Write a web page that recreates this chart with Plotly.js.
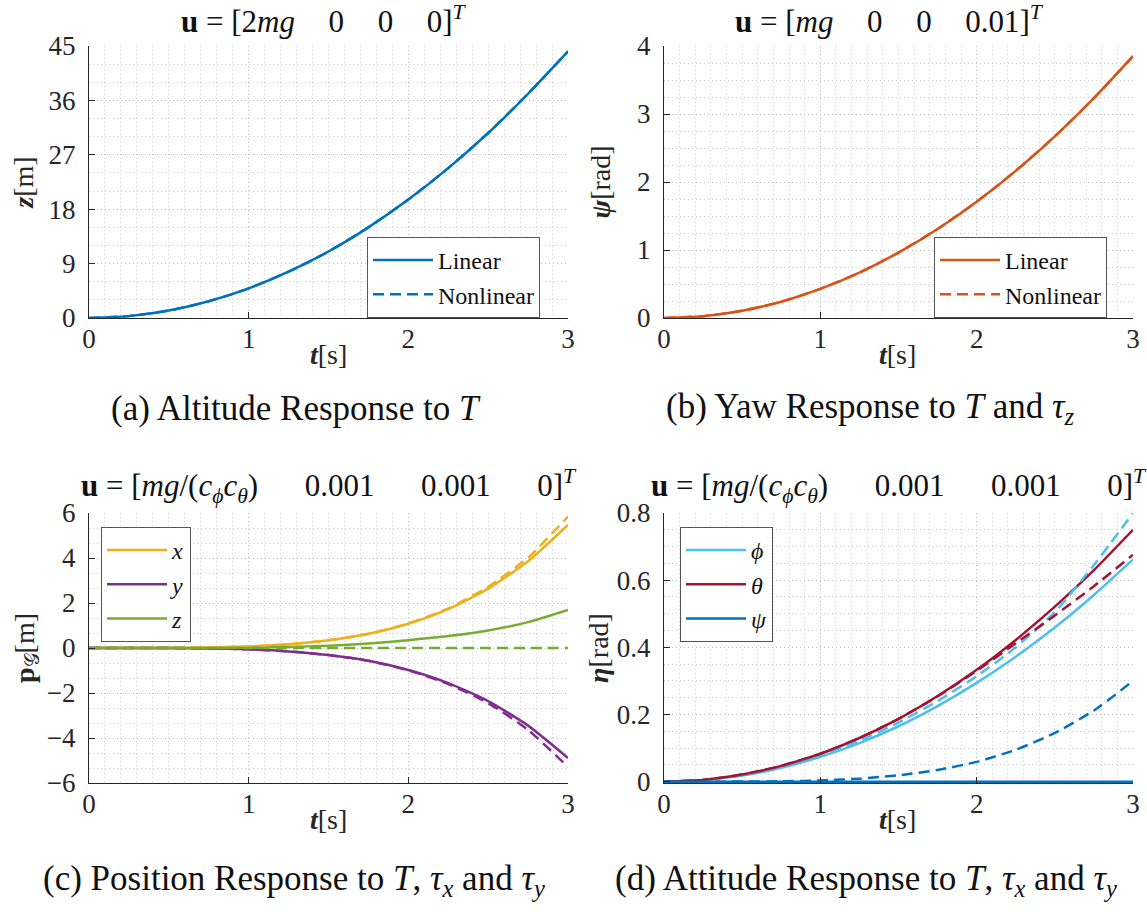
<!DOCTYPE html>
<html>
<head>
<meta charset="utf-8">
<script src="https://cdn.plot.ly/plotly-3.0.1.min.js"></script>
<style>
  html, body { margin: 0; padding: 0; background: #ffffff; }
  #chart { width: 1147px; height: 922px; }
</style>
</head>
<body>
<div id="chart"></div>
<script>
// Simulation time [s]
const t = [0, 0.25, 0.5, 0.75, 1, 1.25, 1.5, 1.75, 2, 2.25, 2.5, 2.75, 3];

// (a) altitude z [m] for u = [2mg 0 0 0]^T
const zLinearA    = [0, 0.31, 1.23, 2.76, 4.90, 7.66, 11.0, 15.0, 19.6, 24.8, 30.6, 37.1, 44.1];
const zNonlinearA = [0, 0.31, 1.23, 2.76, 4.90, 7.66, 11.0, 15.0, 19.6, 24.8, 30.6, 37.1, 44.1];

// (b) yaw psi [rad] for u = [mg 0 0 0.01]^T
const psiLinearB    = [0, 0.027, 0.107, 0.240, 0.428, 0.668, 0.962, 1.309, 1.71, 2.164, 2.672, 3.233, 3.85];
const psiNonlinearB = [0, 0.027, 0.107, 0.240, 0.428, 0.668, 0.962, 1.309, 1.71, 2.164, 2.672, 3.233, 3.85];

// (c) position p_G [m]
const xLinearC    = [0, 0.0003, 0.004, 0.021, 0.068, 0.165, 0.34, 0.63, 1.08, 1.73, 2.64, 3.86, 5.47];
const xNonlinearC = [0, 0.0003, 0.004, 0.021, 0.068, 0.165, 0.34, 0.63, 1.09, 1.76, 2.72, 4.02, 5.84];
const yLinearC    = [0, -0.0003, -0.004, -0.019, -0.06, -0.15, -0.31, -0.57, -0.98, -1.56, -2.36, -3.45, -4.89];
const yNonlinearC = [0, -0.0003, -0.004, -0.019, -0.06, -0.15, -0.31, -0.57, -0.99, -1.60, -2.45, -3.64, -5.29];
const zLinearC    = [0, 0, 0.001, 0.004, 0.02, 0.05, 0.10, 0.20, 0.35, 0.53, 0.78, 1.15, 1.69];
const zNonlinearC = [0, 0, 0, 0, 0, 0, 0, 0, 0, 0, 0, 0, 0];

// (d) attitude eta [rad]
const phiLinearD      = [0, 0.0046, 0.018, 0.041, 0.074, 0.115, 0.165, 0.225, 0.294, 0.372, 0.459, 0.556, 0.662];
const phiNonlinearD   = [0, 0.005, 0.019, 0.044, 0.078, 0.122, 0.176, 0.240, 0.314, 0.400, 0.505, 0.645, 0.800];
const thetaLinearD    = [0, 0.0052, 0.021, 0.047, 0.083, 0.130, 0.187, 0.255, 0.333, 0.422, 0.521, 0.630, 0.750];
const thetaNonlinearD = [0, 0.0052, 0.021, 0.047, 0.083, 0.130, 0.187, 0.254, 0.330, 0.412, 0.495, 0.582, 0.676];
const psiLinearD      = [0, 0, 0, 0, 0, 0, 0, 0, 0, 0, 0, 0, 0];
const psiNonlinearD   = [0, 0.00001, 0.0002, 0.0012, 0.0037, 0.009, 0.019, 0.035, 0.059, 0.095, 0.145, 0.212, 0.300];

// Tick values
const ticksA = [0, 9, 18, 27, 36, 45];
const ticksB = [0, 1, 2, 3, 4];
const ticksC = [-6, -4, -2, 0, 2, 4, 6];
const ticksD = [0, 0.2, 0.4, 0.6, 0.8];
const ticksT = [0, 1, 2, 3];

// MATLAB default line colours
const C_BLUE = '#0072BD', C_ORANGE = '#D95319', C_YELLOW = '#EDB120',
      C_PURPLE = '#7E2F8E', C_GREEN = '#77AC30', C_CYAN = '#4DBEEE', C_RED = '#A2142F';

const SERIF = 'Liberation Serif';
const AX = '#262626';
const LW = 2.5;
const DASH = '11px,6px';
const GRID_DASH = '1px,3px';

function line(x, y, color, dashed, xa, ya, name, legend, show) {
  return {
    type: 'scatter', mode: 'lines', x: x, y: y, name: name,
    xaxis: xa, yaxis: ya, legend: legend, showlegend: show,
    line: { color: color, width: LW, dash: dashed ? DASH : 'solid', shape: 'spline', smoothing: 0.6 },
    hoverinfo: 'skip'
  };
}

const traces = [
  line(t, zLinearA, C_BLUE, false, 'x', 'y', 'Linear', 'legend', true),
  line(t, zNonlinearA, C_BLUE, true, 'x', 'y', 'Nonlinear', 'legend', true),

  line(t, psiLinearB, C_ORANGE, false, 'x2', 'y2', 'Linear', 'legend2', true),
  line(t, psiNonlinearB, C_ORANGE, true, 'x2', 'y2', 'Nonlinear', 'legend2', true),

  line(t, xLinearC, C_YELLOW, false, 'x3', 'y3', '<i>x</i>', 'legend3', true),
  line(t, yLinearC, C_PURPLE, false, 'x3', 'y3', '<i>y</i>', 'legend3', true),
  line(t, zLinearC, C_GREEN, false, 'x3', 'y3', '<i>z</i>', 'legend3', true),
  line(t, xNonlinearC, C_YELLOW, true, 'x3', 'y3', 'x nonlinear', 'legend3', false),
  line(t, yNonlinearC, C_PURPLE, true, 'x3', 'y3', 'y nonlinear', 'legend3', false),
  line(t, zNonlinearC, C_GREEN, true, 'x3', 'y3', 'z nonlinear', 'legend3', false),

  line(t, phiLinearD, C_CYAN, false, 'x4', 'y4', '<i>ϕ</i>', 'legend4', true),
  line(t, thetaLinearD, C_RED, false, 'x4', 'y4', '<i>θ</i>', 'legend4', true),
  line(t, psiLinearD, C_BLUE, false, 'x4', 'y4', '<i>ψ</i>', 'legend4', true),
  line(t, phiNonlinearD, C_CYAN, true, 'x4', 'y4', 'ϕ nonlinear', 'legend4', false),
  line(t, thetaNonlinearD, C_RED, true, 'x4', 'y4', 'θ nonlinear', 'legend4', false),
  line(t, psiNonlinearD, C_BLUE, true, 'x4', 'y4', 'ψ nonlinear', 'legend4', false)
];

const tickFont = { family: SERIF, size: 27, color: AX };

function xAxis(domain, anchor) {
  return {
    domain: domain, anchor: anchor, range: [0, 3],
    tickvals: ticksT, ticks: 'inside', ticklen: 6, tickcolor: AX, tickwidth: 1,
    showline: true, linecolor: AX, linewidth: 1, mirror: false, zeroline: false,
    showgrid: true, gridcolor: '#bdbdbd', griddash: GRID_DASH, gridwidth: 1,
    minor: { dtick: 0.1, tick0: 0, showgrid: true, gridcolor: '#cfcfcf', griddash: GRID_DASH, gridwidth: 1 },
    tickfont: tickFont,
    ticklabelstandoff: -3,
    automargin: false, fixedrange: true
  };
}
function yAxis(domain, anchor, range, ticks, minorStep, titleText, standoff) {
  return {
    domain: domain, anchor: anchor, range: range,
    tickvals: ticks, ticks: 'inside', ticklen: 6, tickcolor: AX, tickwidth: 1,
    showline: true, linecolor: AX, linewidth: 1, mirror: false, zeroline: false,
    showgrid: true, gridcolor: '#bdbdbd', griddash: GRID_DASH, gridwidth: 1,
    minor: { dtick: minorStep, tick0: 0, showgrid: true, gridcolor: '#cfcfcf', griddash: GRID_DASH, gridwidth: 1 },
    tickfont: tickFont,
    ticklabelstandoff: 7,
    title: { text: titleText, font: { family: SERIF, size: 28, color: AX }, standoff: standoff },
    automargin: false, fixedrange: true
  };
}

const W = 1147, H = 922;
const xdLeft = [89 / W, 568 / W];
const xdRight = [664 / W, 1133 / W];
const ydTop = [1 - 318 / H, 1 - 46 / H];
const ydBot = [1 - 783 / H, 1 - 513 / H];

function legendBox(x, y) {
  return {
    x: x / W, y: 1 - y / H, xanchor: 'left', yanchor: 'top',
    bgcolor: '#ffffff', bordercolor: '#555555', borderwidth: 1,
    font: { family: SERIF, size: 24, color: '#111111' },
    itemwidth: 60, tracegroupgap: 0, itemclick: false, itemdoubleclick: false
  };
}

const titleFont = { family: SERIF, size: 31, color: '#111111' };
const capFont = { family: SERIF, size: 35, color: '#111111' };
const axTitleFont = { family: SERIF, size: 28, color: AX };
const QA = '\u2003\u200A';           // gap between entries of u in (a), (b)
const QC = '\u2003\u2002';           // wider gap used in (c), (d)

function ann(text, x, y, font) {
  return { text: text, xref: 'paper', yref: 'paper', x: x / W, y: 1 - y / H,
           xanchor: 'center', yanchor: 'middle', showarrow: false, font: font };
}

const tLabel = '<b><i>t</i></b>[s]';
const ctrlC = '<b>u</b> = [<i>mg</i>/(<i>c</i><sub><i>ϕ</i></sub><i>c</i><sub><i>θ</i></sub>)' + QC + '0.001' + QC + '0.001' + QC + '0]<sup><i>T</i></sup>';

const layout = {
  width: W, height: H,
  margin: { l: 0, r: 0, t: 0, b: 0 },
  font: { family: SERIF, size: 24, color: AX },
  paper_bgcolor: '#ffffff', plot_bgcolor: '#ffffff',
  showlegend: true,
  xaxis: xAxis(xdLeft, 'y'),
  yaxis: yAxis(ydTop, 'x', [0, 45], ticksA, 3, '<b><i>z</i></b>[m]', 6),
  xaxis2: xAxis(xdRight, 'y2'),
  yaxis2: yAxis(ydTop, 'x2', [0, 4], ticksB, 0.25, '<b><i>ψ</i></b>[rad]', 18),
  xaxis3: xAxis(xdLeft, 'y3'),
  yaxis3: yAxis(ydBot, 'x3', [-6, 6], ticksC, 2 / 3, '<b>p</b><sub>𝒢</sub>[m]', 4),
  xaxis4: xAxis(xdRight, 'y4'),
  yaxis4: yAxis(ydBot, 'x4', [-0.004, 0.8], ticksD, 0.05, '<b><i>η</i></b>[rad]', 0),
  legend: legendBox(367, 237),
  legend2: legendBox(934, 237),
  legend3: legendBox(101, 527),
  legend4: legendBox(680, 527),
  annotations: [
    ann('<b>u</b> = [2<i>mg</i>' + QA + '0' + QA + '0' + QA + '0]<sup><i>T</i></sup>', 324, 20, titleFont),
    ann('<b>u</b> = [<i>mg</i>' + QA + '0' + QA + '0' + QA + '0.01]<sup><i>T</i></sup>', 890, 20, titleFont),
    ann(ctrlC, 329, 486, titleFont),
    ann(ctrlC, 899, 486, titleFont),
    ann(tLabel, 328, 354, axTitleFont),
    ann(tLabel, 898, 354, axTitleFont),
    ann(tLabel, 328, 819, axTitleFont),
    ann(tLabel, 898, 819, axTitleFont),
    ann('(a) Altitude Response to <i>T</i>', 296, 408, capFont),
    ann('(b) Yaw Response to <i>T</i> and <i>τ<sub>z</sub></i>', 870, 408, capFont),
    ann('(c) Position Response to <i>T</i>, <i>τ<sub>x</sub></i> and <i>τ<sub>y</sub></i>', 294, 880, capFont),
    ann('(d) Attitude Response to <i>T</i>, <i>τ<sub>x</sub></i> and <i>τ<sub>y</sub></i>', 866, 880, capFont)
  ]
};

Plotly.newPlot('chart', traces, layout, { staticPlot: true, displayModeBar: false });
</script>
</body>
</html>
